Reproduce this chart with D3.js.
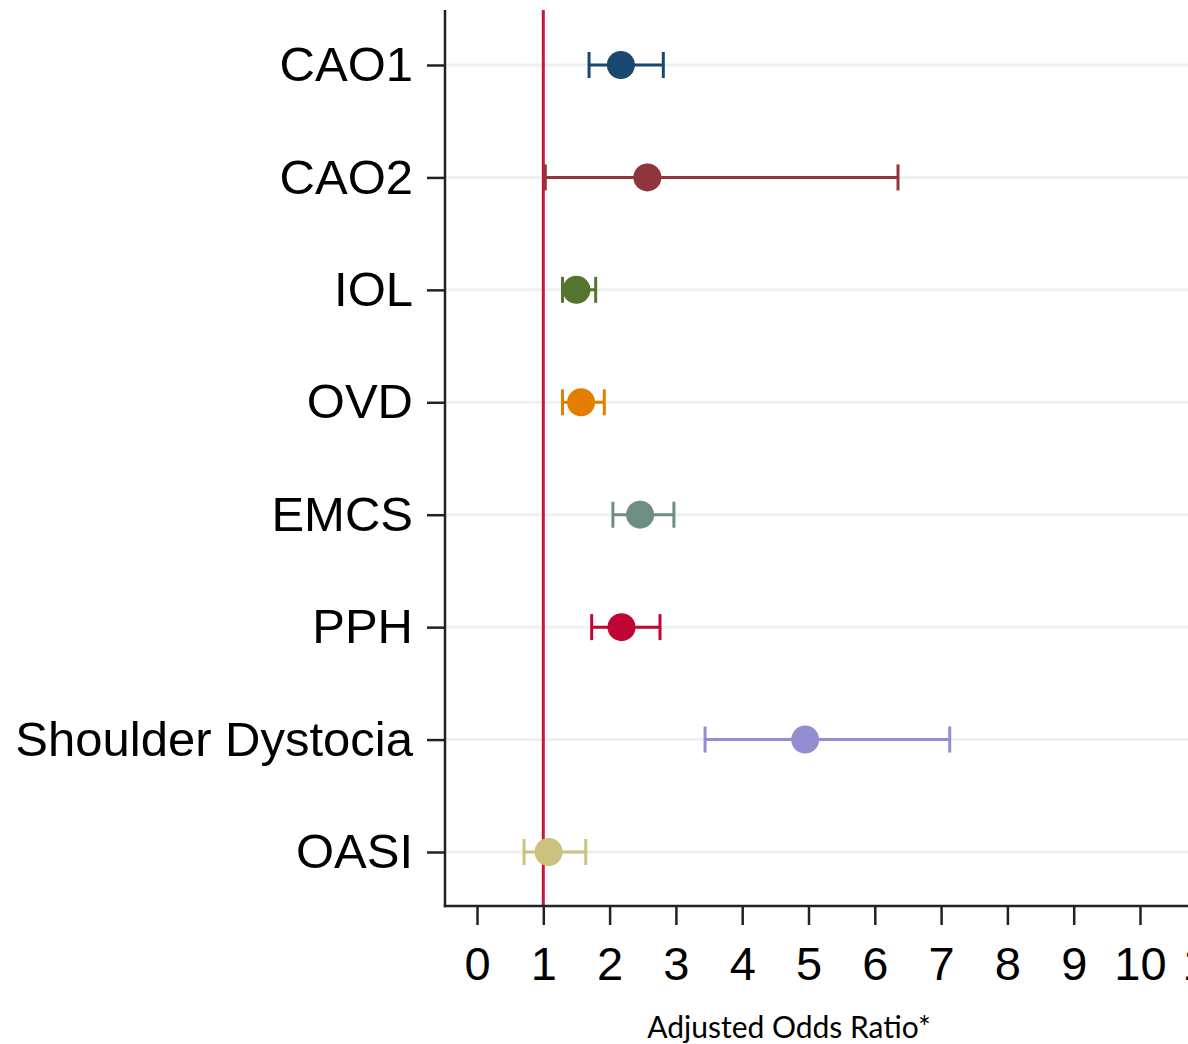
<!DOCTYPE html>
<html>
<head>
<meta charset="utf-8">
<script src="https://cdn.jsdelivr.net/npm/d3@7"></script>
<style>
  body { margin: 0; background: #fff; }
  svg { display: block; }
</style>
</head>
<body>
<div id="chart"></div>
<script>
let svgWidth = 1188;
let svgHeight = 1044;

// data
let outcomes = ["CAO1", "CAO2", "IOL", "OVD", "EMCS", "PPH", "Shoulder Dystocia", "OASI"];
let oddsRatio = [2.17, 2.57, 1.50, 1.57, 2.46, 2.18, 4.95, 1.08];
let ciLower = [1.69, 1.03, 1.29, 1.29, 2.05, 1.73, 3.44, 0.71];
let ciUpper = [2.81, 6.35, 1.79, 1.92, 2.97, 2.76, 7.13, 1.64];
let markerColors = ["#1a476f", "#90353b", "#55752f", "#e37e00", "#6e8e84", "#c10534", "#938dd2", "#cac27e"];
let xTicks = [0, 1, 2, 3, 4, 5, 6, 7, 8, 9, 10, 11];

let rows = outcomes.map((d, i) => ({
  name: d, or: oddsRatio[i], lo: ciLower[i], hi: ciUpper[i], color: markerColors[i]
}));

let plotLeft = 445;
let plotTop = 10;
let plotBottom = 906;

let svg = d3.select("#chart")
  .append("svg")
  .attr("width", svgWidth)
  .attr("height", svgHeight);

let xScale = d3.scaleLinear()
  .domain([0, 11])
  .range([477, 477 + 11 * 66.3]);

let yScale = d3.scalePoint()
  .domain(outcomes)
  .range([65, 852]);

// light gridlines at each outcome
svg.append("g")
  .selectAll("line")
  .data(outcomes)
  .enter()
  .append("line")
  .attr("x1", plotLeft)
  .attr("x2", svgWidth)
  .attr("y1", d => yScale(d))
  .attr("y2", d => yScale(d))
  .attr("stroke", "#eaf2f3")
  .attr("stroke-width", 3);

// reference line at OR = 1
svg.append("line")
  .attr("x1", xScale(1))
  .attr("x2", xScale(1))
  .attr("y1", plotTop)
  .attr("y2", plotBottom)
  .attr("stroke", "#c8163f")
  .attr("stroke-width", 3);

// x axis
let bottomAxis = d3.axisBottom(xScale)
  .tickValues(xTicks)
  .tickSize(19)
  .tickPadding(22)
  .tickFormat(d3.format("d"));

let xAxis = svg.append("g")
  .attr("transform", `translate(0, ${plotBottom})`)
  .call(bottomAxis);
xAxis.select(".domain").remove();
xAxis.selectAll(".tick line").attr("stroke", "#222").attr("stroke-width", 2.5);
xAxis.selectAll(".tick text")
  .attr("fill", "#000")
  .attr("font-family", "Liberation Sans, Arial, sans-serif")
  .attr("font-size", "47px");

// y axis
let leftAxis = d3.axisLeft(yScale)
  .tickSize(18)
  .tickPadding(14);

let yAxis = svg.append("g")
  .attr("transform", `translate(${plotLeft}, 0)`)
  .call(leftAxis);
yAxis.select(".domain").remove();
yAxis.selectAll(".tick line").attr("stroke", "#222").attr("stroke-width", 2.5);
yAxis.selectAll(".tick text")
  .attr("fill", "#000")
  .attr("font-family", "Liberation Sans, Arial, sans-serif")
  .attr("font-size", "49px");

// axis lines
svg.append("line")
  .attr("x1", plotLeft).attr("x2", plotLeft)
  .attr("y1", plotTop).attr("y2", plotBottom + 1.25)
  .attr("stroke", "#222").attr("stroke-width", 2.5);
svg.append("line")
  .attr("x1", plotLeft - 1.25).attr("x2", svgWidth)
  .attr("y1", plotBottom).attr("y2", plotBottom)
  .attr("stroke", "#222").attr("stroke-width", 2.5);

// confidence intervals
let ci = svg.append("g")
  .selectAll("g")
  .data(rows)
  .enter()
  .append("g")
  .attr("stroke", d => d.color)
  .attr("stroke-width", 3);

ci.append("line")
  .attr("x1", d => xScale(d.lo))
  .attr("x2", d => xScale(d.hi))
  .attr("y1", d => yScale(d.name))
  .attr("y2", d => yScale(d.name));

ci.append("line")
  .attr("x1", d => xScale(d.lo))
  .attr("x2", d => xScale(d.lo))
  .attr("y1", d => yScale(d.name) - 13)
  .attr("y2", d => yScale(d.name) + 13);

ci.append("line")
  .attr("x1", d => xScale(d.hi))
  .attr("x2", d => xScale(d.hi))
  .attr("y1", d => yScale(d.name) - 13)
  .attr("y2", d => yScale(d.name) + 13);

// point estimates
svg.append("g")
  .selectAll("circle")
  .data(rows)
  .enter()
  .append("circle")
  .attr("cx", d => xScale(d.or))
  .attr("cy", d => yScale(d.name))
  .attr("r", 14)
  .attr("fill", d => d.color);

// axis title
svg.append("text")
  .attr("x", 789)
  .attr("y", 1038)
  .attr("text-anchor", "middle")
  .attr("font-family", "Lato, Open Sans, sans-serif")
  .attr("font-size", "30px")
  .attr("fill", "#000")
  .text("Adjusted Odds Ratio*");
</script>
</body>
</html>
